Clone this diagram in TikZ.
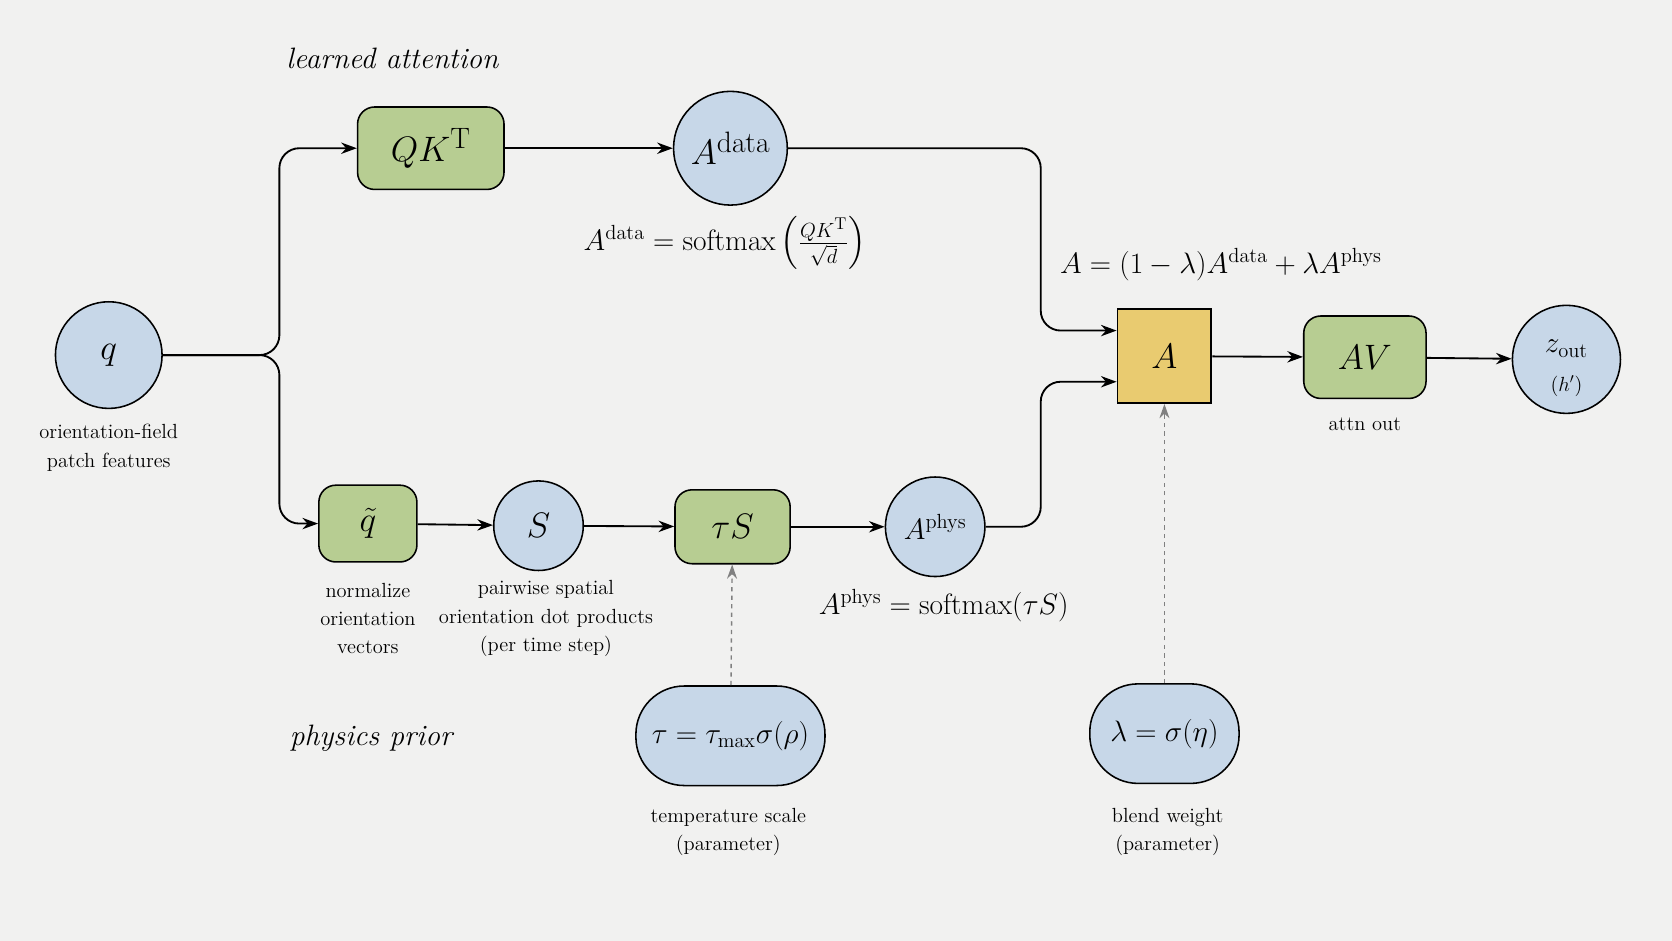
\documentclass[tikz,border=0pt]{standalone}
\usepackage{amsmath}
\usetikzlibrary{arrows.meta}
\definecolor{bgc}{RGB}{241,241,240}
\definecolor{grn}{RGB}{183,205,146}
\definecolor{blu}{RGB}{199,215,232}
\definecolor{ylw}{RGB}{233,203,112}
\tikzset{
  circ/.style={circle, draw=black, line width=1.1pt, fill=blu, inner sep=0pt},
  op/.style={rounded corners=12pt, draw=black, line width=1.1pt, fill=grn, inner sep=0pt},
  prm/.style={rounded corners=34pt, draw=black, line width=1.1pt, fill=blu, inner sep=0pt},
  lbl/.style={align=center, font=\Large, inner sep=0pt},
  flow/.style={-{Stealth[length=11pt,width=8pt]}, line width=1.3pt, rounded corners=14pt},
  prior/.style={-{Stealth[length=10pt,width=7pt]}, line width=1pt, dashed, gray}
}
\begin{document}
\begin{tikzpicture}[x=0.75pt,y=0.75pt,yscale=-1,xscale=1]

\fill [bgc] (0,0) rectangle (1568,882);

%%%%%%%%%%%%%%%%%%%%%%%%%%%%%%%%%%%%%%%%%%%%%%%%%%%%%%%%%%%%%%%%%%%%%%%%

\node at (368,55) {\huge\itshape learned attention};
\node at (348,692) {\huge\itshape physics prior};

\node [circ, minimum size=75pt] (q) at (102,333) {\Huge $q$};
\node [lbl] (qlbl) at (102,420) {orientation-field\\[2pt]patch features};

\node [op, minimum width=103pt, minimum height=58pt] (qk) at (404,139) {\Huge $QK^{\mathrm{T}}$};
\node [circ, minimum size=80pt] (adata) at (685,139) {\Huge $A^{\mathrm{data}}$};
\node [lbl, font=\huge] (fdata) at (680,228) {$A^{\mathrm{data}} = \mathrm{softmax}\left(\frac{QK^{\mathrm{T}}}{\sqrt{d}}\right)$};

\node [op, minimum width=69pt, minimum height=54pt] (qt) at (345,491) {\Huge $\tilde q$};
\node [lbl] at (345,580) {normalize\\[2pt]orientation\\[2pt]vectors};
\node [circ, minimum size=63pt] (s) at (505,493) {\Huge $S$};
\node [lbl] at (512,580) {pairwise spatial\\[2pt]orientation dot products\\[2pt](per time step)};
\node [op, minimum width=81pt, minimum height=52pt] (ts) at (687,494) {\Huge $\tau S$};
\node [circ, minimum size=70pt] (aphys) at (877,494) {\huge $A^{\mathrm{phys}}$};
\node [lbl, font=\huge] at (885,568) {$A^{\mathrm{phys}} = \mathrm{softmax}(\tau S)$};

\node [draw=black, line width=1.3pt, fill=ylw, minimum size=66pt] (a) at (1092,334) {\Huge $A$};
\node [lbl] at (1145,248) {\huge $A = (1-\lambda)A^{\mathrm{data}} + \lambda A^{\mathrm{phys}}$};

\node [op, minimum width=86pt, minimum height=58pt] (av) at (1280,335) {\Huge $AV$};
\node [lbl] at (1280,398) {attn out};
\node [circ, minimum size=76pt] (z) at (1469,337) {};
\node at (1469,327) {\huge $z_{\mathrm{out}}$};
\node at (1469,362) {\Large $(h')$};

\node [prm, minimum width=133pt, minimum height=70pt] (tau) at (685,690) {\huge $\tau = \tau_{\max}\sigma(\rho)$};
\node [lbl] at (683,780) {temperature scale\\[2pt](parameter)};
\node [prm, minimum width=105pt, minimum height=70pt] (lam) at (1092,688) {\huge $\lambda = \sigma(\eta)$};
\node [lbl] at (1095,780) {blend weight\\[2pt](parameter)};

%%%%%%%%%%%%%%%%%%%%%%%%%%%%%%%%%%%%%%%%%%%%%%%%%%%%%%%%%%%%%%%%%%%%%%%%

\draw [flow] (q.east) -- (262,333) |- (qk.west);
\draw [flow] (q.east) -- (262,333) |- (qt.west);
\draw [flow] (qk) -- (adata);
\draw [flow] (qt) -- (s);
\draw [flow] (s) -- (ts);
\draw [flow] (ts) -- (aphys);
\draw [flow] (adata.east) -- (976,139) |- (a.west |- 0,310);
\draw [flow] (aphys.east) -- (976,494) |- (a.west |- 0,358);
\draw [flow] (a) -- (av);
\draw [flow] (av) -- (z);
\draw [prior] (tau) -- (ts);
\draw [prior] (lam) -- (a);

\end{tikzpicture}
\end{document}
